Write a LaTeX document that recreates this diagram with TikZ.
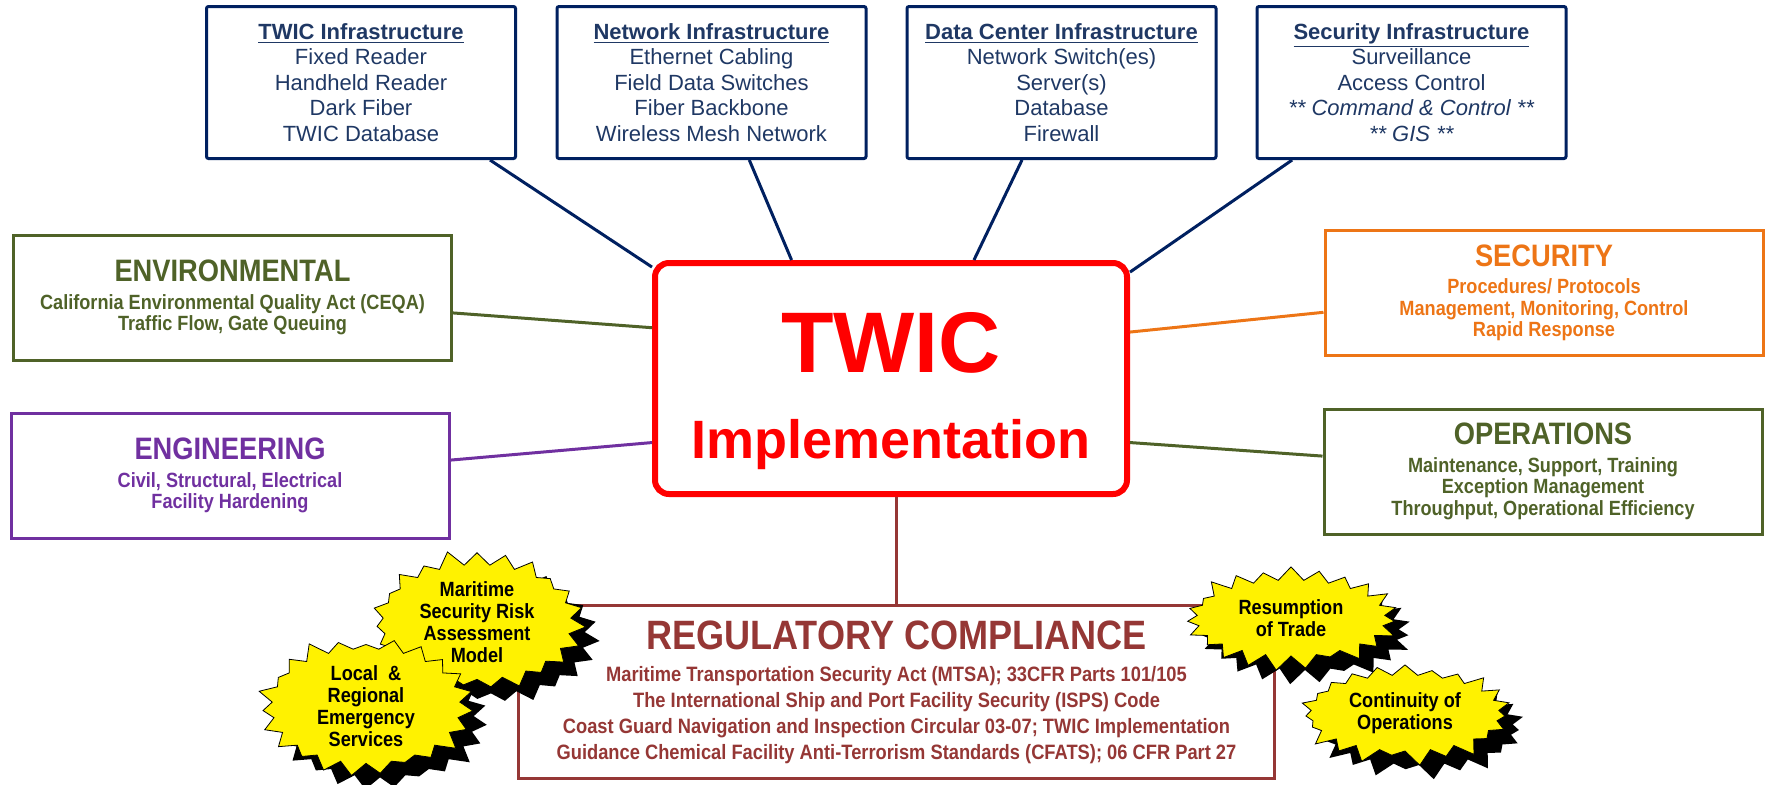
\documentclass[tikz,border=0pt]{standalone}
\usepackage{fontspec}
\setmainfont{Liberation Sans}
\newfontfamily\narrowfont[FakeStretch=0.88]{Liberation Sans}
\usetikzlibrary{shapes.symbols,shadows}

\definecolor{navy}{RGB}{0,32,96}
\definecolor{navytext}{RGB}{31,56,100}
\definecolor{olive}{RGB}{79,98,40}
\definecolor{plum}{RGB}{112,48,160}
\definecolor{tangerine}{RGB}{237,117,22}
\definecolor{brick}{RGB}{149,55,53}

\newcommand{\areatitle}[1]{{\fontsize{15.5}{15.5}\selectfont #1}}

\tikzset{
  infobox/.style={draw=navy, text=navytext, line width=1.5pt, rounded corners=1pt,
    minimum width=154.5pt, minimum height=76pt, align=center,
    font=\fontsize{11}{12.75}\selectfont},
  areabox/.style={draw=#1, text=#1, line width=1.5pt, minimum width=219pt,
    minimum height=62.5pt, align=center,
    font=\narrowfont\bfseries\fontsize{10.3}{10.75}\selectfont},
  burst/.style={starburst, draw=black, fill=yellow, thin, inner sep=0pt,
    starburst points=23, starburst point height=8pt,
    minimum width=110pt, minimum height=54pt, align=center,
    general shadow={fill=black, shadow xshift=7pt, shadow yshift=-7pt},
    font=\narrowfont\bfseries\fontsize{10.3}{11}\selectfont},
  link/.style={line width=1.5pt}
}

\begin{document}
\begin{tikzpicture}[x=0.5pt, y=-0.5pt]
  \useasboundingbox (0,0) rectangle (1769,784);

  % infrastructure row
  \foreach \i/\x/\head/\a/\b/\c/\d in {
      1/361/TWIC Infrastructure/Fixed Reader/Handheld Reader/Dark Fiber/TWIC Database,
      2/711.5/Network Infrastructure/Ethernet Cabling/Field Data Switches/Fiber Backbone/Wireless Mesh Network,
      3/1061.5/Data Center Infrastructure/Network Switch(es)/Server(s)/Database/Firewall,
      4/1411.5/Security Infrastructure/Surveillance/Access Control/{\textit{** Command \& Control **}}/{\textit{** GIS **}}} {
    \node[infobox] (t\i) at (\x,82.5) {\underline{\textbf{\head}}\\\a\\\b\\\c\\\d};
  }

  \node[draw=red, line width=3pt, rounded corners=7pt, minimum width=236pt,
    minimum height=115.5pt] (twic) at (891,378.5) {};
  \node[red, anchor=base, font=\bfseries\fontsize{43}{43}\selectfont] (twictop) at (891,372) {TWIC};
  \node[red, anchor=base, font=\bfseries\fontsize{27}{27}\selectfont] (twicsub) at (891,458) {Implementation};

  \foreach \i/\from/\to in {1/-31.6/155.6, 2/-64.8/130.4, 3/-117/55.3, 4/-147.5/24.4} {
    \path[draw,link,navy] (t\i.\from) -- (twic.\to);
  }

  % discipline boxes
  \node[areabox=olive] (env) at (232.5,297.5) {\areatitle{ENVIRONMENTAL}\\[3pt]California Environmental Quality Act (CEQA)\\Traffic Flow, Gate Queuing};
  \node[areabox=plum] (eng) at (230,475.5) {\areatitle{ENGINEERING}\\[3pt]Civil, Structural, Electrical\\Facility Hardening};
  \node[areabox=tangerine] (sec) at (1544,293) {\areatitle{SECURITY}\\[3pt]Procedures/ Protocols\\Management, Monitoring, Control\\Rapid Response};
  \node[areabox=olive] (ops) at (1543,471.5) {\areatitle{OPERATIONS}\\[3pt]Maintenance, Support, Training\\Exception Management\\Throughput, Operational Efficiency};

  \path[draw,link,olive] (env.-4.6) -- (twic.168.5);
  \path[draw,link,plum] (eng.4.6) -- (twic.195.3);
  \path[draw,link,tangerine] (sec.185.7) -- (twic.11.5);
  \path[draw,link,olive] (ops.176.2) -- (twic.-15.5);

  \node[areabox=brick, minimum width=378pt, minimum height=86.5pt,
    font=\narrowfont\bfseries\fontsize{10.4}{13}\selectfont] (reg) at (896.5,692)
    {{\fontsize{20.5}{20.5}\selectfont REGULATORY COMPLIANCE}\\[3pt]
     Maritime Transportation Security Act (MTSA); 33CFR Parts 101/105\\
     The International Ship and Port Facility Security (ISPS) Code\\
     Coast Guard Navigation and Inspection Circular 03-07; TWIC Implementation\\
     Guidance Chemical Facility Anti-Terrorism Standards (CFATS); 06 CFR Part 27};
  \path[draw,link,brick] (reg.north) -- (reg.north |- twic.south);

  % starbursts
  \node[burst, random starburst=11] (risk) at (477,622) {Maritime\\Security Risk\\Assessment\\Model};
  \node[burst, random starburst=23] (local) at (366,706) {Local~~\&\\Regional\\Emergency\\Services};
  \node[burst, random starburst=37] (trade) at (1291,618) {Resumption\\of Trade};
  \node[burst, random starburst=51] (cont) at (1405,713) {Continuity of\\Operations};
\end{tikzpicture}
\end{document}
